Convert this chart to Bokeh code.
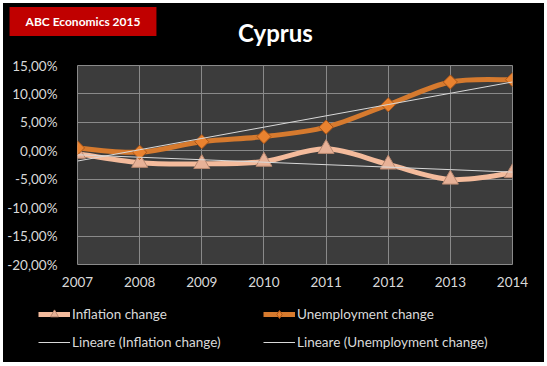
import numpy as np
from bokeh.plotting import figure
from bokeh.layouts import column
from bokeh.models import Range1d, FixedTicker, Label, Legend, LegendItem
from bokeh.embed import file_html
from bokeh.resources import INLINE

years = [2007, 2008, 2009, 2010, 2011, 2012, 2013, 2014]
inflation = [-0.5, -2.1, -2.3, -1.9, 0.35, -2.4, -5.05, -3.9]
unemployment = [0.5, -0.25, 1.6, 2.5, 4.15, 8.1, 12.1, 12.5]
y_ticks = [-20, -15, -10, -5, 0, 5, 10, 15]
title_text = "Cyprus"
badge_text = "ABC Economics 2015"
series_names = ["Inflation change", "Unemployment change"]
trend_names = ["Lineare (Inflation change)", "Lineare (Unemployment change)"]

FONT = "Lato"
W = 541
HEAD_H, MAIN_H, FOOT_H = 52, 240, 67
FL, FW, FH, TOP = 74, 435, 199, 10

INF_LINE = dict(line_color="#f4bb9c", line_width=5)
INF_MARK = dict(marker="triangle", size=16, fill_color="#e7b197",
                line_color="#b98870", line_width=1)
UNE_LINE = dict(line_color="#d67a2e", line_width=5)
UNE_MARK = dict(marker="square", angle=np.pi / 4, size=10, fill_color="#e9822f",
                line_color="#a9561a", line_width=1)
TREND = dict(line_color="#d9d9d9", line_width=1)


def blank(h):
    f = figure(width=W, height=h, output_backend="svg", toolbar_location=None,
               x_range=Range1d(0, W), y_range=Range1d(h, 0), min_border=0,
               frame_align=False)
    f.axis.visible = False
    f.grid.visible = False
    f.outline_line_color = None
    f.background_fill_color = "#000000"
    f.border_fill_color = "#000000"
    return f


def smooth(xs, ys):
    xs = np.asarray(xs, float)
    ys = np.asarray(ys, float)
    n = len(xs)
    xp = np.concatenate([[xs[0]], xs, [xs[-1]]])
    yp = np.concatenate([[ys[0]], ys, [ys[-1]]])
    x0, y0 = xs[:-1], ys[:-1]
    x1, y1 = xs[1:], ys[1:]
    cx0 = x0 + (xp[2:n + 1] - xp[0:n - 1]) / 6
    cy0 = y0 + (yp[2:n + 1] - yp[0:n - 1]) / 6
    cx1 = x1 - (xp[3:n + 2] - xp[1:n]) / 6
    cy1 = y1 - (yp[3:n + 2] - yp[1:n]) / 6
    return dict(x0=x0, y0=y0, x1=x1, y1=y1, cx0=cx0, cy0=cy0, cx1=cx1, cy1=cy1)


def add_series(f, inf_mark=INF_MARK, une_mark=UNE_MARK):
    r = {}
    r["inf_line"] = f.bezier(**smooth(years, inflation), **INF_LINE)
    r["inf_mark"] = f.scatter(years, inflation, **inf_mark)
    r["une_line"] = f.bezier(**smooth(years, unemployment), **UNE_LINE)
    r["une_mark"] = f.scatter(years, unemployment, **une_mark)
    xa = np.asarray(years, float)
    for key, ys in (("inf_trend", inflation), ("une_trend", unemployment)):
        k, b = np.polyfit(xa, np.asarray(ys, float), 1)
        r[key] = f.line(years, k * xa + b, **TREND)
    return r


# ---------- header ----------
head = blank(HEAD_H)
head.add_layout(Label(x=272, y=29, text=title_text, text_align="center",
                      text_baseline="middle", text_font=FONT, text_font_style="bold",
                      text_font_size="24px", text_color="#ffffff"))
head.add_layout(Label(x=79.5, y=18, text=badge_text, text_align="center",
                      text_baseline="middle", text_font=FONT, text_font_style="bold",
                      text_font_size="12px", text_color="#ffffff",
                      background_fill_color="#c00000",
                      padding=dict(left=16, right=16, top=7, bottom=7)))

# ---------- main chart ----------
p = figure(width=W, height=MAIN_H, output_backend="svg", toolbar_location=None,
           x_range=Range1d(2007, 2014), y_range=Range1d(-20, 15),
           min_border_left=FL, min_border_right=W - FL - FW,
           min_border_top=TOP, min_border_bottom=MAIN_H - TOP - FH,
           frame_align=False)
p.background_fill_color = "#3c3c3c"
p.border_fill_color = "#000000"
p.outline_line_color = "#8a8a8a"
p.xaxis.ticker = FixedTicker(ticks=years)
p.yaxis.ticker = FixedTicker(ticks=y_ticks)
p.yaxis.major_label_overrides = {t: ("%.2f%%" % t).replace(".", ",") for t in y_ticks}
for ax in (p.xaxis, p.yaxis):
    ax.axis_line_color = None
    ax.major_tick_line_color = None
    ax.minor_tick_line_color = None
    ax.major_label_text_color = "#d9d9d9"
    ax.major_label_text_font = FONT
    ax.major_label_text_font_size = "13.5px"
p.yaxis.major_label_standoff = 14
p.xaxis.major_label_standoff = 6
p.xgrid.grid_line_color = "#8a8a8a"
p.ygrid.grid_line_color = "#8a8a8a"
add_series(p)

# ---------- footer with legend (proxies lie outside its ranges) ----------
foot = blank(FOOT_H)
fr = add_series(foot,
                inf_mark=dict(INF_MARK, size=12),
                une_mark=dict(marker="diamond", size=12, fill_color="#e9822f",
                              line_color="#a9561a", line_width=1))
legend = Legend(items=[
    LegendItem(label=series_names[0], renderers=[fr["inf_line"], fr["inf_mark"]]),
    LegendItem(label=trend_names[0], renderers=[fr["inf_trend"]]),
    LegendItem(label=series_names[1], renderers=[fr["une_line"], fr["une_mark"]]),
    LegendItem(label=trend_names[1], renderers=[fr["une_trend"]]),
], location=(35, 10), ncols=2)
legend.background_fill_alpha = 0
legend.border_line_alpha = 0
legend.margin = 0
legend.padding = 0
legend.spacing = 8
legend.glyph_width = 32
legend.label_width = 183
legend.label_standoff = 2
legend.label_text_color = "#d9d9d9"
legend.label_text_font = FONT
legend.label_text_font_size = "13.5px"
foot.add_layout(legend)

layout = column(head, p, foot, spacing=0, margin=(3, 0, 0, 3),
                styles={"background-color": "#000000"})
open("out.html", "w").write(file_html(layout, INLINE))
